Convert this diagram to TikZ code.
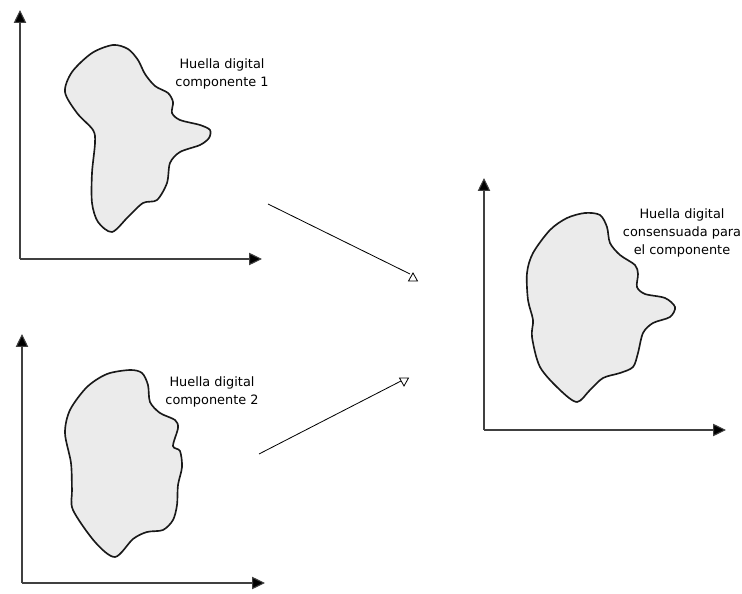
\documentclass[tikz,border=0pt]{standalone}
\usepackage{fontspec}
\setmainfont{DejaVu Sans}
\usetikzlibrary{arrows.meta,positioning,calc}

\begin{document}
\begin{tikzpicture}[x=0.03cm,y=-0.03cm,
		axis/.style={line width=0.9pt, draw=black!75, -{Triangle[length=11pt,width=10.5pt,fill=black]}},
		blob/.style={draw=black!90, line width=1.4pt, fill=black!8},
		lbl/.style={align=center, font=\fontsize{11}{15.3}\selectfont},
		tip/.style={line width=0.7pt, fill=white}]
		\useasboundingbox (0,0) rectangle (742,594);

		% axes
		\coordinate (o1) at (20,259);
		\coordinate (o2) at (22,583);
		\coordinate (o3) at (484,430);
		\draw[axis] (o1) -- (20,10);
		\draw[axis] (o1) -- (262,259);
		\draw[axis] (o2) -- (22,334);
		\draw[axis] (o2) -- (265,583);
		\draw[axis] (o3) -- (484,178);
		\draw[axis] (o3) -- (726,430);

		% fingerprints
		\draw[blob] plot[smooth cycle] coordinates {(113,45) (128,49) (138,60) (145,74) (155,86) (168,93) (173,102) (172,113) (180,120) (200,125) (210,130) (209,138) (200,145) (180,152) (170,163) (167,183) (157,200) (143,203) (128,217) (112,232) (98,222) (92,203) (92,173) (95,143) (93,130) (77,113) (65,92) (72,72) (92,53)};
		\draw[blob] plot[smooth cycle] coordinates {(130,370) (142,373) (148,385) (150,402) (160,413) (175,420) (178,428) (173,446) (180,451) (182,467) (178,485) (177,505) (173,520) (163,530) (147,532) (133,539) (115,557) (95,542) (73,510) (72,490) (71,463) (65,433) (70,410) (87,387) (107,374)};
		\draw[blob] plot[smooth cycle] coordinates {(585,213) (600,215) (607,227) (610,243) (620,255) (635,265) (638,274) (637,287) (645,294) (665,298) (675,307) (670,317) (653,323) (643,333) (638,353) (633,367) (620,373) (603,378) (590,390) (577,402) (560,390) (540,367) (532,337) (533,320) (528,300) (527,273) (533,253) (550,230) (567,218)};

		% labels
		\node[lbl] (l1) at (222,74) {Huella digital\\componente 1};
		\node[lbl] (l2) at (212,392) {Huella digital\\componente 2};
		\node[lbl] (l3) at (682,233) {Huella digital\\consensuada para\\el componente};

		% arrows
		\coordinate (a1) at (268,204);
		\coordinate (b1) at (410,274);
		\coordinate (a2) at (259,454);
		\coordinate (b2) at (401,381);
		\draw[line width=0.7pt] (a1) -- (b1);
		\draw[line width=0.7pt] (a2) -- (b2);
		\draw[tip] (408.5,281) -- (413,273) -- (417.5,281) -- cycle;
		\draw[tip] (399.5,378) -- (404,386) -- (408.5,378) -- cycle;
	\end{tikzpicture}
\end{document}
